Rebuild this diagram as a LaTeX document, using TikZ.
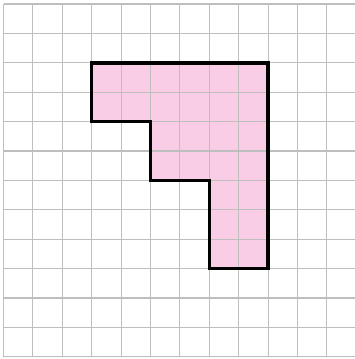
\documentclass[tikz,border=0pt]{standalone}
\definecolor{gridgray}{RGB}{190,190,190}
\definecolor{shapepink}{RGB}{249,205,230}
\begin{document}
\begin{tikzpicture}[x=1pt,y=-1pt,
  gridline/.style={draw=gridgray,line width=1.1pt},
  shapefill/.style={fill=shapepink},
  shapeborder/.style={draw=black,line width=3.4pt,line join=miter}]
\useasboundingbox (0,0) rectangle (355,359);
\def\s{29.4}
\def\xo{3.5}
\def\yo{4}
% shape fill
\fill[shapefill] (\xo+3*\s,\yo+2*\s) -- (\xo+9*\s,\yo+2*\s) -- (\xo+9*\s,\yo+9*\s) -- (\xo+7*\s,\yo+9*\s) -- (\xo+7*\s,\yo+6*\s) -- (\xo+5*\s,\yo+6*\s) -- (\xo+5*\s,\yo+4*\s) -- (\xo+3*\s,\yo+4*\s) -- cycle;
% grid
\foreach \k in {0,...,11} {
  \draw[gridline] (\xo+\k*\s,\yo) -- (\xo+\k*\s,\yo+12*\s);
}
\foreach \k in {0,...,12} {
  \draw[gridline] (\xo,\yo+\k*\s) -- (355,\yo+\k*\s);
}
% border
\draw[shapeborder] (\xo+3*\s,\yo+2*\s) -- (\xo+9*\s,\yo+2*\s) -- (\xo+9*\s,\yo+9*\s) -- (\xo+7*\s,\yo+9*\s) -- (\xo+7*\s,\yo+6*\s) -- (\xo+5*\s,\yo+6*\s) -- (\xo+5*\s,\yo+4*\s) -- (\xo+3*\s,\yo+4*\s) -- cycle;
\end{tikzpicture}
\end{document}
